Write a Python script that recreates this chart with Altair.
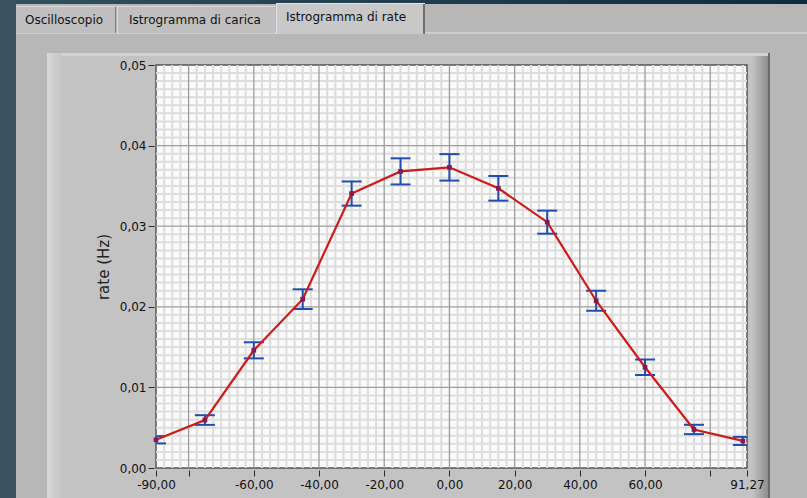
import altair as alt
import numpy as np
import pandas as pd

# --- measured rate per angle, with its uncertainty -------------------------
angles = [-90, -75, -60, -45, -30, -15, 0, 15, 30, 45, 60, 75, 90]
rates = [0.00350, 0.00595, 0.01460, 0.02095, 0.03405, 0.03680, 0.03730,
         0.03470, 0.03050, 0.02075, 0.01250, 0.00478, 0.00336]
errors = [0.00045, 0.00060, 0.00100, 0.00122, 0.00150, 0.00162, 0.00164,
          0.00153, 0.00143, 0.00124, 0.00096, 0.00058, 0.00050]

# --- axis ticks --------------------------------------------------------------
x_ticks = [-90, -80, -60, -40, -20, 0, 20, 40, 60, 80, 91.27]
y_ticks = [0.0, 0.01, 0.02, 0.03, 0.04, 0.05]
x_major_grid = [-80, -60, -40, -20, 0, 20, 40, 60, 80]
y_major_grid = [0.01, 0.02, 0.03, 0.04]
x_minor_step = 2.5
y_minor_step = 0.001

tab_names = ["Oscilloscopio", "Istrogramma di carica", "Istrogramma di rate"]

X_MIN, X_MAX = -90, 91.27
Y_MIN, Y_MAX = 0.0, 0.05

# plot area placement inside the 807 x 498 canvas
LEFT, TOP = 156, 65
W, H = 591, 403
CANVAS_W, CANVAS_H = 807, 498

FONT = "DejaVu Sans"

df = pd.DataFrame({"angle": angles, "rate": rates, "err": errors})
df["lo"] = df["rate"] - df["err"]
df["hi"] = df["rate"] + df["err"]

minor_x = [float(v) for v in np.round(np.arange(X_MIN + x_minor_step, X_MAX, x_minor_step), 3)
           if v not in x_major_grid]
minor_y = [float(v) for v in np.round(np.arange(Y_MIN + y_minor_step, Y_MAX - 1e-9, y_minor_step), 4)
           if round(float(v), 4) not in y_major_grid]

x_scale = alt.Scale(domain=[X_MIN, X_MAX], nice=False, zero=False)
y_scale = alt.Scale(domain=[Y_MIN, Y_MAX], nice=False, zero=False)

x_axis = alt.Axis(
    values=x_ticks,
    labelExpr="(datum.value == -80 || datum.value == 80) ? '' : "
              "replace(replace(format(datum.value, '.2f'), '.', ','), '\u2212', '-')",
    grid=False, domain=False, ticks=True, tickSize=6, tickWidth=1,
    tickColor="#2a2a2a", offset=2, labelPadding=3,
    labelFont=FONT, labelFontSize=12, labelColor="#111111",
    labelOverlap=False, labelFlush=False, labelBound=False,
    title=None, zindex=1,
)
y_axis = alt.Axis(
    values=y_ticks,
    labelExpr="replace(format(datum.value, '.2f'), '.', ',')",
    grid=False, domain=False, ticks=True, tickSize=6, tickWidth=1,
    tickColor="#2a2a2a", offset=2, labelPadding=2,
    labelFont=FONT, labelFontSize=12, labelColor="#111111",
    labelOverlap=False, labelFlush=False, labelBound=False,
    title="rate (Hz)", titleFont=FONT, titleFontSize=15, titleFontWeight="normal",
    titleColor="#222222", titleAngle=270, titleAlign="center",
    titleBaseline="middle", titleX=-51, titleY=H / 2, zindex=1,
)


def xq(field):
    return alt.X(f"{field}:Q", scale=x_scale, axis=x_axis)


def yq(field):
    return alt.Y(f"{field}:Q", scale=y_scale, axis=y_axis)


one = pd.DataFrame({"k": [0]})


def panel(x0, y0, x1, y1, fill, **kw):
    """A flat piece of the instrument panel, given in canvas pixels."""
    return alt.Chart(one).mark_rect(fill=fill, **kw).encode(
        x=alt.value(x0 - LEFT), x2=alt.value(x1 - LEFT),
        y=alt.value(y0 - TOP), y2=alt.value(y1 - TOP),
    )


def hgrad(c0, c1):
    return alt.LinearGradient(
        gradient="linear", x1=0, x2=1, y1=0, y2=0,
        stops=[alt.GradientStop(color=c0, offset=0), alt.GradientStop(color=c1, offset=1)],
    )


PANEL = "#b7b7b7"
chrome = [
    # window surroundings
    panel(0, 0, CANVAS_W, 4, hgrad("#33505f", "#0f2b3f")),
    panel(0, 0, 16, CANVAS_H, "#3b5263"),
    # tab control body
    panel(16, 4, CANVAS_W, 53, PANEL),
    panel(16, 53, 47, CANVAS_H, PANEL),
    panel(770, 53, CANVAS_W, CANVAS_H, PANEL),
    panel(16, 32, CANVAS_W, 34, "#cdcdcd"),
    # tabs
    panel(16, 6, 116, 33, "#bfbfbf"),
    panel(16, 6, 116, 7, "#d8d8d8"),
    panel(115, 7, 116, 33, "#7c7c7c"),
    panel(117, 6, 275, 33, "#bfbfbf"),
    panel(117, 6, 275, 7, "#d8d8d8"),
    panel(117, 7, 118, 33, "#dadada"),
    panel(276, 3, 425, 34, "#c8c8c8"),
    panel(276, 3, 425, 4, "#e4e4e4"),
    panel(276, 3, 277, 34, "#e4e4e4"),
    panel(423, 4, 425, 34, "#6f6f6f"),
    # graph frame bevels
    panel(47, 53, 770, 56, "#d3d3d3"),
    panel(47, 53, 61, CANVAS_H, hgrad("#d8d8d8", "#c5c5c5")),
    panel(752, 56, 768, CANVAS_H, hgrad("#c4c4c4", "#8e8e8e")),
    panel(768, 53, 770, CANVAS_H, "#6a6a6a"),
]

grid_minor_x = alt.Chart(pd.DataFrame({"angle": minor_x})).mark_rule(
    color="#dddddd", strokeWidth=2
).encode(x=xq("angle"))
grid_minor_y = alt.Chart(pd.DataFrame({"rate": minor_y})).mark_rule(
    color="#dddddd", strokeWidth=2
).encode(y=yq("rate"))
grid_major_x = alt.Chart(pd.DataFrame({"angle": x_major_grid})).mark_rule(
    color="#9d9d9d", strokeWidth=1.3
).encode(x=xq("angle"))
grid_major_y = alt.Chart(pd.DataFrame({"rate": y_major_grid})).mark_rule(
    color="#9d9d9d", strokeWidth=1.3
).encode(y=yq("rate"))

base = alt.Chart(df)
ERR = "#1f4db3"

stems = base.mark_rule(color=ERR, strokeWidth=2, clip=True).encode(
    x=xq("angle"), y=yq("lo"), y2="hi:Q",
)
caps_lo = base.mark_tick(color=ERR, orient="horizontal", size=20, thickness=2,
                         opacity=1, clip=True).encode(x=xq("angle"), y=yq("lo"))
caps_hi = base.mark_tick(color=ERR, orient="horizontal", size=20, thickness=2,
                         opacity=1, clip=True).encode(x=xq("angle"), y=yq("hi"))
curve = base.mark_line(color="#d01a1a", strokeWidth=2.2).encode(
    x=xq("angle"), y=yq("rate"),
)
points = base.mark_square(color="#8a1848", size=22, opacity=1).encode(
    x=xq("angle"), y=yq("rate"),
)

tab_centres = [(64, 20), (195, 20), (346, 17)]
tab_labels = [
    alt.Chart(one).mark_text(font=FONT, fontSize=12, color="#111111",
                             align="center", baseline="middle").encode(
        text=alt.value(name), x=alt.value(cx - LEFT), y=alt.value(cy - TOP)
    )
    for name, (cx, cy) in zip(tab_names, tab_centres)
]

chart = alt.layer(
    *chrome,
    grid_minor_x, grid_minor_y, grid_major_x, grid_major_y,
    stems, caps_lo, caps_hi, curve, points,
    *tab_labels,
).properties(
    width=W, height=H,
    autosize=alt.AutoSizeParams(type="none"),
    padding={"left": LEFT, "top": TOP, "right": CANVAS_W - LEFT - W,
             "bottom": CANVAS_H - TOP - H},
    background="#c3c3c3",
).configure_view(
    fill="#fafafa", stroke="#555555", strokeWidth=1.5,
)

chart.save("out.html", embed_options={"renderer": "svg", "actions": False})
